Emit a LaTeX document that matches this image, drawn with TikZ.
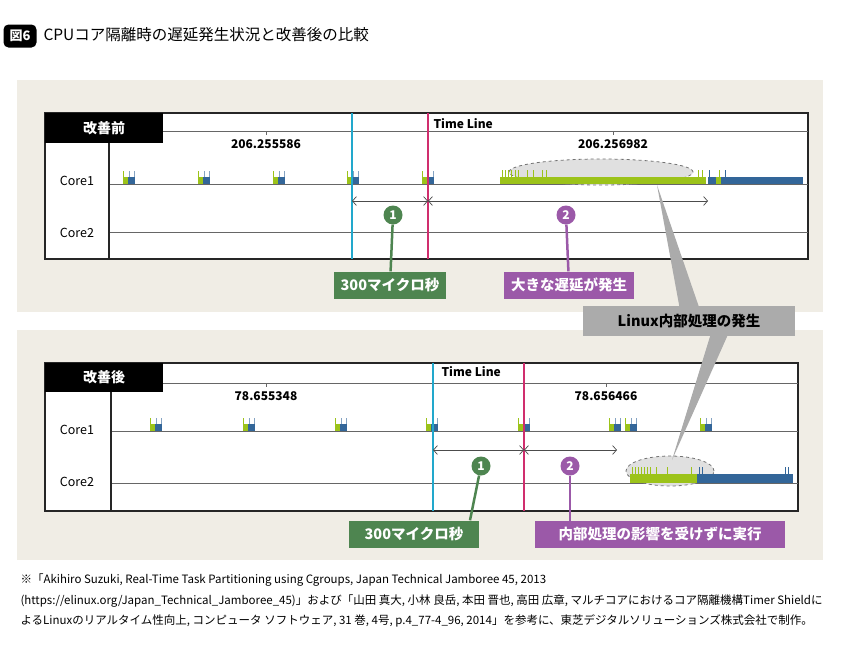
\documentclass[tikz,border=0pt]{standalone}
\usepackage{fontspec}
\setmainfont{Noto Sans CJK JP}
\usetikzlibrary{arrows.meta,shapes.geometric}
\definecolor{bgp}{HTML}{F0EDE5}
\definecolor{gr}{HTML}{4E8550}
\definecolor{pu}{HTML}{9B59A8}
\definecolor{lg}{HTML}{9CC31A}
\definecolor{bl}{HTML}{336699}
\definecolor{cy}{HTML}{22A8CC}
\definecolor{mg}{HTML}{D02E6E}
\definecolor{cg}{HTML}{ABABAB}
\tikzset{
 panel/.style={fill=bgp,draw=none},
 chart/.style={draw=black!85,line width=1.4pt,fill=white},
 hdr/.style={fill=black,text=white,font=\bfseries\fontsize{14}{14}\selectfont,inner sep=0},
 ax/.style={draw=black!60,line width=0.7pt},
 lab/.style={font=\fontsize{12.5}{12.5}\selectfont},
 num/.style={font=\bfseries\fontsize{12}{12}\selectfont},
 dbl/.style={draw=black!70,line width=0.7pt,{Straight Barb[length=4pt,width=9pt]}-{Straight Barb[length=4pt,width=9pt]}},
 circ/.style={circle,fill=#1,text=white,font=\bfseries\fontsize{12}{12}\selectfont,minimum size=19pt,inner sep=0},
 tag/.style={fill=#1,text=white,font=\bfseries\fontsize{14.5}{14.5}\selectfont,minimum height=27pt,inner xsep=7pt},
 ell/.style={draw=black!55,dashed,line width=0.8pt,fill=black!12,ellipse,inner sep=0},
}
\newcommand{\mk}[2]{% x, baseline y
 \fill[lg] (#1,#2-7) rectangle (#1+5,#2);
 \fill[bl] (#1+5,#2-7) rectangle (#1+12,#2);
 \draw[lg,line width=0.6pt] (#1+0.5,#2-13)--(#1+0.5,#2-7);
 \draw[bl!60,line width=0.6pt] (#1+6,#2-13)--(#1+6,#2-7) (#1+11.5,#2-13)--(#1+11.5,#2-7);}
\begin{document}
\begin{tikzpicture}[x=1pt,y=-1pt]
\useasboundingbox (0,0) rectangle (841,646);
\fill[white] (0,0) rectangle (841,646);
% title
\node[fill=black,text=white,rounded corners=5pt,font=\bfseries\fontsize{13}{13}\selectfont,minimum width=33pt,minimum height=23pt,inner sep=0] (badge) at (20,36) {図6};
\node[anchor=west,font=\fontsize{15.5}{15.5}\selectfont] (title) at (40,35) {CPUコア隔離時の遅延発生状況と改善後の比較};
% ===== top panel
\fill[panel] (17,80) rectangle (823,312);
\filldraw[chart] (45,113) rectangle (808,259);
\draw[ax] (163,131)--(808,131);
\draw[ax] (109,184)--(808,184) (109,232)--(808,232);
\draw[black!85,line width=1.4pt] (109,143)--(109,259);
\node[hdr,minimum width=118pt,minimum height=30pt] (h1) at (104,128) {改善前};
\node[lab] (c11) at (77,181) {Core1};
\node[lab] (c12) at (77,233) {Core2};
\draw[ax] (266,131)--(266,135) (613,131)--(613,135);
\node[num] (t1) at (266,144) {206.255586};
\node[num] (t2) at (613,144) {206.256982};
\node[num,anchor=west] (tl1) at (430,124) {Time Line};
\foreach \x in {123,198,273,347,422} {\mk{\x}{184}}
% burst
\node[ell,minimum width=184pt,minimum height=26pt] (e1) at (601,172) {};
\fill[lg] (500,177) rectangle (706,184);
\foreach \x in {502,505,508,511,515,518,527,533,542,546,698,702} {\draw[lg,line width=0.8pt] (\x,170)--(\x,177);}
\fill[bl] (708,177) rectangle (716,184);
\fill[lg] (716,177) rectangle (721,184);
\fill[bl] (721,177) rectangle (803,184);
\draw[bl,line width=0.6pt] (709,170)--(709,177) (725,170)--(725,177);
\draw[lg,line width=0.6pt] (719,170)--(719,177);
\draw[cy,line width=1.2pt] (352,113)--(352,259);
\draw[mg,line width=1.2pt] (428,113)--(428,259);
\coordinate (a1) at (352,201); \coordinate (a2) at (428,201); \coordinate (a3) at (708,201);
\draw[dbl] (a1)--(a2); \draw[dbl] (a2)--(a3);
\node[circ=gr] (n1) at (393,215) {1};
\node[circ=pu] (n2) at (566,215) {2};
\node[tag=gr] (g1) at (390,285) {300マイクロ秒};
\node[tag=pu] (p1) at (569,285) {大きな遅延が発生};
\draw[gr,line width=2.5pt] (n1)--(g1);
\draw[pu,line width=2.5pt] (n2)--(p1);
% ===== bottom panel
\fill[panel] (17,330) rectangle (823,560);
\filldraw[chart] (45,363) rectangle (798,511);
\draw[ax] (163,383)--(798,383);
\draw[ax] (111,431)--(798,431) (111,483)--(798,483);
\draw[black!85,line width=1.4pt] (111,392)--(111,511);
\node[hdr,minimum width=118pt,minimum height=29pt] (h2) at (104,377.5) {改善後};
\node[lab] (c21) at (77,430) {Core1};
\node[lab] (c22) at (77,482) {Core2};
\draw[ax] (266,383)--(266,387) (606,383)--(606,387);
\node[num] (t3) at (266,396) {78.655348};
\node[num] (t4) at (606,396) {78.656466};
\node[num,anchor=west] (tl2) at (438,372) {Time Line};
\foreach \x in {150,243,335,426,518,609,625,700} {\mk{\x}{431}}
\node[ell,minimum width=88pt,minimum height=30pt] (e2) at (670,471) {};
\fill[lg] (630,474) rectangle (697,483);
\foreach \x in {632,635,638,641,644,647,650,656,667,691} {\draw[lg,line width=0.8pt] (\x,467)--(\x,474);}
\fill[bl] (697,474) rectangle (793,483);
\draw[bl,line width=0.6pt] (699,467)--(699,474) (702,467)--(702,474) (785,467)--(785,474) (788,467)--(788,474);
\draw[cy,line width=1.2pt] (433,363)--(433,511);
\draw[mg,line width=1.2pt] (524,363)--(524,511);
\coordinate (b1) at (433,450); \coordinate (b2) at (524,450); \coordinate (b3) at (617,450);
\draw[dbl] (b1)--(b2); \draw[dbl] (b2)--(b3);
\node[circ=gr] (n3) at (481,466) {1};
\node[circ=pu] (n4) at (570,466) {2};
\node[tag=gr,minimum width=130pt] (g2) at (414,534) {300マイクロ秒};
\node[tag=pu,minimum width=250pt] (p2) at (660,534) {内部処理の影響を受けずに実行};
\draw[gr,line width=2.5pt] (n3)--(g2.north-|470,0);
\draw[pu,line width=2.5pt] (n4)--(570,521);
% callout
\fill[cg] (680,310) -- (657,185) -- (700,310) -- cycle;
\fill[cg] (712,330) -- (672,460) -- (730,330) -- cycle;
\node[fill=cg,font=\bfseries\fontsize{14.5}{14.5}\selectfont,minimum width=212pt,minimum height=30pt] (lx) at (689,321) {Linux内部処理の発生};
% footnote
\begin{scope}[font=\fontsize{11.5}{11.5}\selectfont]
\node[anchor=west] (f1) at (17,580) {※「Akihiro Suzuki, Real-Time Task Partitioning using Cgroups, Japan Technical Jamboree 45, 2013};
\node[anchor=west] (f2) at (17,601) {(https://elinux.org/Japan\_Technical\_Jamboree\_45)」および「山田 真大, 小林 良岳, 本田 晋也, 高田 広章, マルチコアにおけるコア隔離機構Timer Shieldに};
\node[anchor=west] (f3) at (17,621) {よるLinuxのリアルタイム性向上, コンピュータ ソフトウェア, 31 巻, 4号, p.4\_77-4\_96, 2014」を参考に、東芝デジタルソリューションズ株式会社で制作。};
\end{scope}
\end{tikzpicture}
\end{document}
